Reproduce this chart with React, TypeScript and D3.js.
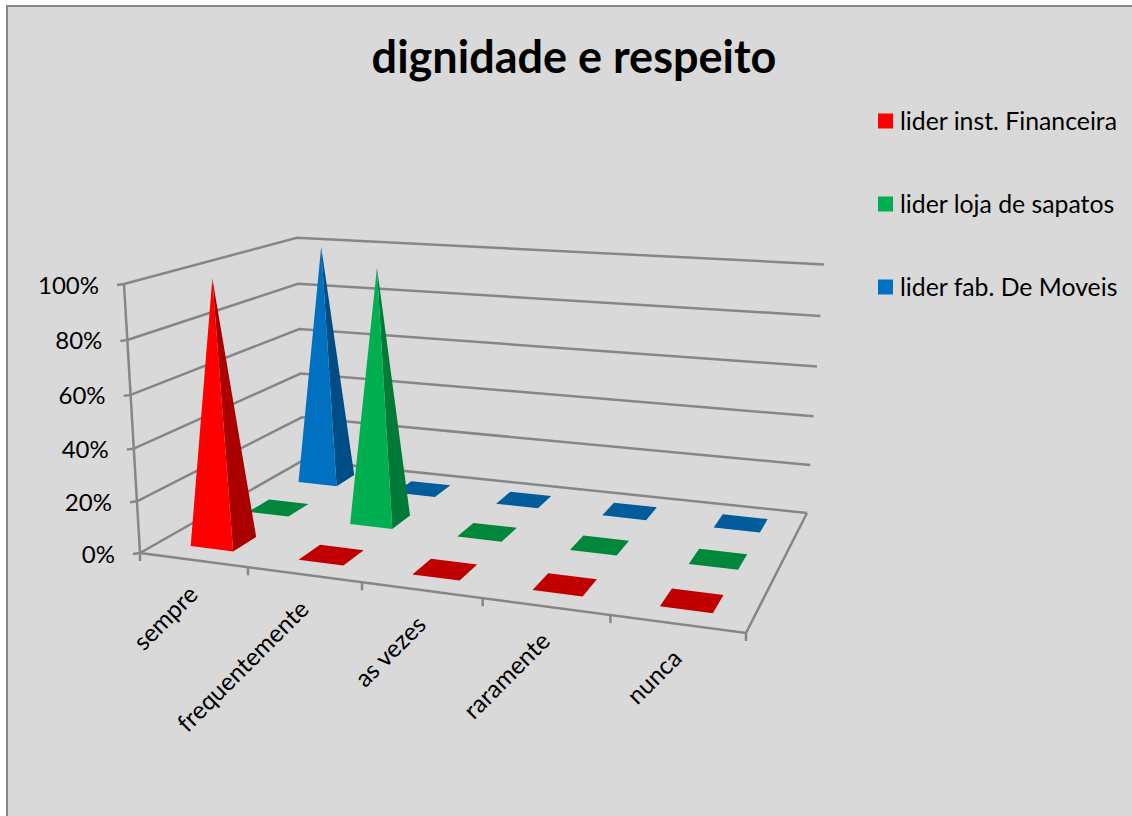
import React from "react";
import * as d3 from "d3";

// Chart content
const categories = ["sempre", "frequentemente", "as vezes", "raramente", "nunca"];
const seriesNames = ["lider inst. Financeira", "lider loja de sapatos", "lider fab. De Moveis"];
const financeira = [1, 0, 0, 0, 0];
const sapatos = [0, 1, 0, 0, 0];
const moveis = [1, 0, 0, 0, 0];
const seriesValues = [financeira, sapatos, moveis];
const frontColors = ["#FF0000", "#00B050", "#0070C0"];
const sideColors = ["#AA0000", "#007A37", "#004C85"];
const flatColors = ["#C00000", "#00873C", "#005C9A"];
const percentTicks = [0, 0.2, 0.4, 0.6, 0.8, 1];

type P = [number, number];

// Camera model: a projective map of (u, v, t), built from the floor quad,
// the point where vertical edges converge, and the height of the front-left edge.
function makeCamera(p00: P, p10: P, p11: P, p01: P, vanish: P, topFrontLeftY: number) {
  const [x0, y0] = p00, [x1, y1] = p10, [x2, y2] = p11, [x3, y3] = p01;
  const sx = x0 - x1 + x2 - x3, sy = y0 - y1 + y2 - y3;
  const dx1 = x1 - x2, dx2 = x3 - x2, dy1 = y1 - y2, dy2 = y3 - y2;
  const den = dx1 * dy2 - dx2 * dy1;
  const g = (sx * dy2 - dx2 * sy) / den;
  const h = (dx1 * sy - sx * dy1) / den;
  const a = x1 - x0 + g * x1, b = x3 - x0 + h * x3;
  const d = y1 - y0 + g * y1, e = y3 - y0 + h * y3;
  const i = (topFrontLeftY - y0) / (vanish[1] - topFrontLeftY);
  return (u: number, v: number, t: number): P => {
    const w = g * u + h * v + 1 + i * t;
    return [
      (a * u + b * v + x0 + vanish[0] * i * t) / w,
      (d * u + e * v + y0 + vanish[1] * i * t) / w,
    ];
  };
}

const camera = makeCamera([140, 553], [746, 633], [807, 513], [303, 460.4], [450, 5763], 284);

const uScale = d3.scaleLinear().domain([0, categories.length]).range([0, 1]);
const vScale = d3.scaleLinear().domain([0, seriesNames.length]).range([0, 1]);
const zScale = d3.scaleLinear().domain([0, 1]).range([0, 1]);

// Position in category units, series units and value.
const project = (c: number, s: number, value: number): P =>
  camera(uScale(c), vScale(s), zScale(value));

const poly = d3.line<P>().curve(d3.curveLinearClosed);
const seg = d3.line<P>();
const pct = d3.format(".0%");
const AXIS = "#868686";
const FONT = "Lato, 'Open Sans', sans-serif";
const HALF = 0.2; // half the base width, in category/series units

function Pyramid({ c, s }: { c: number; s: number }) {
  const value = seriesValues[s][c];
  const cx = c + 0.5, cy = s + 0.5;
  const fl = project(cx - HALF, cy - HALF, 0);
  const fr = project(cx + HALF, cy - HALF, 0);
  const br = project(cx + HALF, cy + HALF, 0);
  const bl = project(cx - HALF, cy + HALF, 0);
  if (value === 0) return <path d={poly([fl, fr, br, bl])!} fill={flatColors[s]} />;
  const apex = project(cx, cy, value);
  return (
    <g>
      <path d={poly([fr, br, apex])!} fill={sideColors[s]} />
      <path d={poly([fl, fr, apex])!} fill={frontColors[s]} />
    </g>
  );
}

export default function App() {
  const nC = categories.length, nS = seriesNames.length;
  const rows = d3.range(nS).reverse();
  return (
    <svg width={1132} height={816} style={{ position: "absolute", left: 0, top: 0, background: "#fff" }} fontFamily={FONT}>
      <rect x={7} y={6} width={1140} height={830} fill="#D9D9D9" stroke={AXIS} strokeWidth={2} />
      <text x={574} y={73} textAnchor="middle" fontSize={45} fontWeight={700} fill="#000">dignidade e respeito</text>

      {/* walls and floor */}
      <g fill="none" stroke={AXIS} strokeWidth={2.5}>
        {percentTicks.map((t) => (
          <path key={t} d={seg([project(0, 0, t), project(0, nS, t), project(nC, nS, t)])!} />
        ))}
        <path d={seg([project(0, 0, 0), project(nC, 0, 0), project(nC, nS, 0)])!} />
        <path d={seg([project(0, 0, 0), project(0, 0, 1)])!} />
        {percentTicks.map((t) => {
          const p = project(0, 0, t);
          return <path key={t} d={seg([p, [p[0] - 7, p[1] + 1]])!} />;
        })}
        {d3.range(nC + 1).map((i) => {
          const p = project(i, 0, 0);
          return <path key={i} d={seg([p, [p[0], p[1] + 8]])!} />;
        })}
      </g>

      {/* value labels */}
      {percentTicks.map((t) => {
        const p = project(0, 0, t);
        return (
          <text key={t} x={p[0] - 25} y={p[1] + 9.5} textAnchor="end" fontSize={24} fill="#000">{pct(t)}</text>
        );
      })}

      {/* category labels */}
      {categories.map((name, i) => {
        const p = project(i + 0.5, 0, 0);
        const x = p[0], y = p[1] + 30;
        return (
          <text key={name} transform={`translate(${x},${y}) rotate(-45)`} textAnchor="end" fontSize={24.5} fill="#000" dy="0.35em">{name}</text>
        );
      })}

      {/* pyramids, back row first */}
      {rows.map((s) => categories.map((_, c) => <Pyramid key={`${s}-${c}`} c={c} s={s} />))}

      {/* legend */}
      {seriesNames.map((name, i) => {
        const y = 121 + i * 83;
        return (
          <g key={name}>
            <rect x={878} y={y - 7.5} width={15} height={15} fill={frontColors[i]} />
            <text x={900} y={y + 8.5} fontSize={24.8} fill="#000">{name}</text>
          </g>
        );
      })}
    </svg>
  );
}
